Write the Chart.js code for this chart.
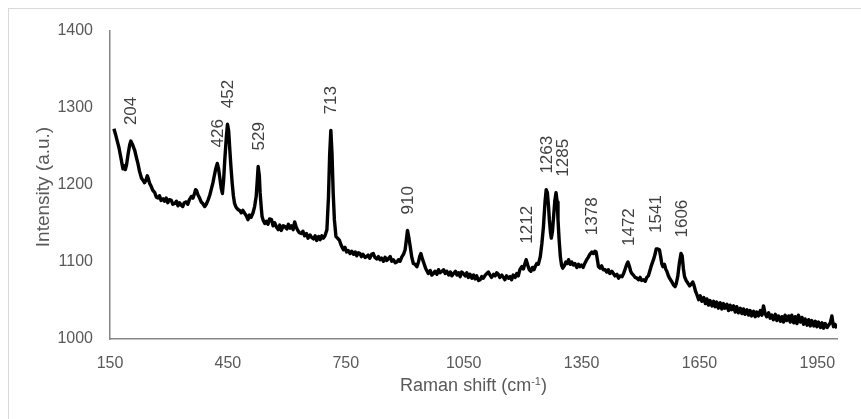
<!DOCTYPE html>
<html>
<head>
<meta charset="utf-8">
<script src="https://cdn.jsdelivr.net/npm/chart.js@4.4.1/dist/chart.umd.min.js"></script>
<style>
  html, body { margin:0; padding:0; background:#fff; }
  canvas { display:block; }
</style>
</head>
<body>
<canvas id="chart" width="861" height="419"></canvas>
<script>
// ====== DATA ======
const ramanShift = [
  160,164,167,170,173,176,179,181,183,186,189,192,196,200,203,207,210,213,217,221,
  225,230,234,238,242,245,247,251,255,259,264,268,272,276,280,285,289,293,297,301,
  306,310,315,319,323,327,331,335,339,344,348,352,357,361,365,368,370,374,378,382,
  386,391,395,400,404,408,412,415,419,423,426,429,433,436,439,442,446,449,452,455,
  458,461,464,467,471,476,480,484,488,493,497,501,505,509,514,518,522,525,527,530,
  532,535,537,540,544,548,552,556,561,565,569,574,578,582,586,591,595,600,604,608,
  612,616,620,624,628,632,637,641,645,650,654,659,663,668,672,676,681,685,689,693,
  697,702,706,709,712,715,718,721,725,729,734,738,741,744,748,752,756,761,765,770,
  774,778,782,786,790,794,799,803,807,811,816,820,824,829,833,837,841,846,850,854,
  858,863,867,871,876,880,884,888,893,897,901,904,907,910,914,918,922,926,931,935,
  938,941,945,949,953,957,960,965,969,973,977,982,986,990,995,999,1003,1007,1012,1016,
  1020,1024,1029,1033,1037,1041,1045,1049,1054,1058,1062,1066,1071,1075,1079,1083,1088,1092,1096,1100,
  1105,1109,1113,1117,1121,1126,1130,1134,1138,1142,1147,1151,1155,1159,1164,1168,1172,1176,1181,1185,
  1189,1193,1198,1202,1206,1209,1213,1217,1221,1225,1229,1232,1236,1240,1245,1249,1253,1257,1260,1263,
  1266,1268,1271,1273,1276,1279,1282,1285,1288,1290,1293,1296,1299,1302,1306,1310,1313,1317,1321,1325,
  1329,1333,1338,1342,1346,1350,1354,1358,1363,1367,1371,1376,1380,1384,1387,1390,1393,1397,1401,1405,
  1410,1414,1418,1422,1427,1431,1435,1440,1444,1448,1453,1457,1461,1465,1468,1472,1475,1478,1482,1486,
  1491,1495,1499,1503,1508,1512,1516,1520,1524,1528,1533,1537,1540,1544,1548,1551,1554,1557,1561,1564,
  1567,1571,1575,1580,1584,1588,1591,1595,1599,1603,1606,1609,1612,1616,1620,1625,1629,1633,1636,1640,
  1644,1648,1652,1656,1661,1665,1669,1673,1677,1682,1686,1690,1694,1698,1703,1707,1711,1715,1720,1724,
  1728,1732,1737,1741,1745,1749,1754,1758,1762,1766,1771,1775,1779,1783,1788,1792,1796,1800,1805,1809,
  1813,1817,1821,1826,1830,1834,1838,1843,1847,1851,1856,1860,1864,1868,1872,1877,1881,1885,1890,1894,
  1898,1902,1907,1911,1915,1919,1924,1928,1932,1936,1941,1945,1949,1953,1958,1962,1966,1970,1975,1979,
  1983,1987,1991,1995,2000
];
const intensity = [
  1273,1266,1260,1254,1248,1240,1232,1226,1221,1225,1220,1226,1240,1252,1257,1253,1249,1245,1236,1228,
  1218,1209,1206,1203,1207,1212,1209,1202,1198,1193,1190,1184,1183,1186,1180,1182,1179,1183,1177,1181,
  1180,1175,1176,1179,1173,1177,1174,1172,1177,1178,1175,1181,1185,1183,1189,1194,1193,1187,1183,1178,
  1176,1172,1175,1181,1187,1195,1203,1211,1221,1228,1222,1211,1196,1189,1205,1232,1262,1279,1270,1245,
  1222,1202,1186,1176,1171,1168,1167,1164,1167,1163,1160,1155,1161,1158,1164,1172,1185,1208,1224,1212,
  1190,1170,1159,1154,1150,1153,1149,1156,1155,1147,1151,1145,1142,1148,1141,1147,1146,1143,1149,1144,
  1147,1142,1152,1145,1141,1138,1137,1140,1134,1137,1131,1135,1132,1130,1134,1128,1133,1129,1134,1131,
  1134,1142,1185,1240,1271,1240,1189,1155,1133,1131,1128,1122,1119,1116,1119,1113,1115,1111,1114,1110,
  1113,1108,1112,1111,1107,1110,1106,1107,1109,1105,1110,1111,1106,1104,1107,1103,1105,1101,1106,1102,
  1104,1107,1101,1103,1099,1100,1103,1101,1107,1110,1116,1128,1141,1133,1120,1106,1098,1097,1094,1100,
  1107,1111,1104,1098,1092,1088,1085,1089,1083,1085,1088,1084,1090,1086,1088,1090,1085,1088,1083,1087,
  1082,1085,1088,1083,1086,1081,1087,1085,1082,1086,1080,1084,1079,1083,1078,1082,1076,1077,1081,1079,
  1083,1085,1087,1083,1080,1084,1082,1086,1084,1080,1083,1080,1077,1082,1079,1081,1077,1083,1080,1085,
  1082,1090,1094,1091,1098,1103,1096,1090,1088,1093,1090,1094,1098,1097,1107,1124,1146,1178,1194,1190,
  1172,1155,1138,1131,1140,1160,1180,1190,1178,1155,1128,1107,1096,1092,1095,1100,1098,1103,1097,1100,
  1096,1098,1093,1097,1094,1096,1093,1098,1103,1106,1110,1113,1111,1114,1113,1104,1094,1092,1095,1090,
  1090,1087,1090,1085,1088,1085,1082,1084,1079,1082,1081,1085,1091,1097,1100,1094,1088,1085,1083,1080,
  1079,1077,1080,1076,1077,1075,1080,1082,1089,1096,1103,1110,1117,1117,1116,1108,1098,1094,1097,1091,
  1088,1082,1078,1074,1070,1068,1072,1082,1099,1111,1108,1092,1081,1076,1073,1069,1071,1074,1070,1062,
  1057,1051,1056,1049,1054,1046,1052,1044,1050,1043,1049,1042,1048,1040,1047,1039,1046,1040,1045,1037,
  1044,1038,1043,1035,1042,1034,1040,1033,1039,1032,1038,1031,1037,1030,1036,1029,1035,1030,1037,1031,
  1043,1033,1029,1034,1027,1031,1025,1032,1024,1030,1023,1029,1022,1031,1024,1030,1022,1031,1021,1029,
  1020,1031,1022,1028,1019,1026,1018,1025,1017,1024,1017,1023,1016,1022,1015,1021,1014,1020,1015,1018,
  1021,1030,1016,1019,1014
];
const peakLabels = [204, 426, 452, 529, 713, 910, 1212, 1263, 1285, 1378, 1472, 1541, 1606];
const xTicks = [150, 450, 750, 1050, 1350, 1650, 1950];
const yTicks = [1000, 1100, 1200, 1300, 1400];

// ====== STYLE ======
const FONT = '"Liberation Sans", Arial, sans-serif';
const AXIS_GREY = '#868686';
const TICK_COLOR = '#595959';
const LABEL_COLOR = '#404040';

// ====== PLUGIN: peak labels, axis titles, frame ======
const decorations = {
  id: 'decorations',
  afterDatasetsDraw(chart) {
    const ctx = chart.ctx;
    const xs = chart.scales.x, ys = chart.scales.y;
    ctx.save();
    ctx.font = '17px ' + FONT;
    ctx.fillStyle = LABEL_COLOR;
    ctx.textAlign = 'left';
    ctx.textBaseline = 'middle';
    let prev = null;
    peakLabels.forEach(p => {
      // highest point near the peak
      let top = -Infinity;
      ramanShift.forEach((s, i) => { if (Math.abs(s - p) <= 8 && intensity[i] > top) top = intensity[i]; });
      const txt = String(p);
      const w = ctx.measureText(txt).width;
      let x = xs.getPixelForValue(p);
      const yb = ys.getPixelForValue(top) - 16;
      if (prev && x - prev.x < 15 && yb > prev.yb - prev.w && yb - w < prev.yb) x = prev.x + 16;
      ctx.save();
      ctx.translate(x, yb);
      ctx.rotate(-Math.PI / 2);
      ctx.fillText(txt, 0, 0);
      ctx.restore();
      prev = { x, yb, w };
    });
    ctx.restore();
  },
  afterDraw(chart) {
    const ctx = chart.ctx;
    const area = chart.chartArea;
    ctx.save();
    // outer frame
    ctx.strokeStyle = '#d9d9d9';
    ctx.lineWidth = 1;
    ctx.strokeRect(8.5, 8.5, 900, 500);

    // y title
    ctx.fillStyle = TICK_COLOR;
    ctx.font = '19px ' + FONT;
    ctx.textAlign = 'center';
    ctx.textBaseline = 'middle';
    ctx.translate(44, (area.top + area.bottom) / 2 + 2);
    ctx.rotate(-Math.PI / 2);
    ctx.fillText('Intensity (a.u.)', 0, 0);
    ctx.restore();

    // x title with superscript
    ctx.save();
    ctx.fillStyle = TICK_COLOR;
    ctx.textBaseline = 'alphabetic';
    ctx.textAlign = 'left';
    const big = '18px ' + FONT, small = '11px ' + FONT;
    const a = 'Raman shift (cm', b = '-1', c = ')';
    ctx.font = big; const wa = ctx.measureText(a).width, wc = ctx.measureText(c).width;
    ctx.font = small; const wb = ctx.measureText(b).width;
    let x = (area.left + area.right) / 2 - (wa + wb + wc) / 2;
    const base = 391;
    ctx.font = big; ctx.fillText(a, x, base); x += wa;
    ctx.font = small; ctx.fillText(b, x, base - 6); x += wb;
    ctx.font = big; ctx.fillText(c, x, base);
    ctx.restore();
  }
};

// ====== CHART ======
new Chart(document.getElementById('chart').getContext('2d'), {
  type: 'line',
  data: {
    datasets: [{
      data: ramanShift.map((s, i) => ({ x: s, y: intensity[i] })),
      borderColor: '#000',
      borderWidth: 3.4,
      borderJoinStyle: 'round',
      pointRadius: 0,
      tension: 0,
      fill: false
    }]
  },
  options: {
    responsive: false,
    animation: false,
    devicePixelRatio: 1,
    layout: { padding: { top: 31, right: 24, left: 0, bottom: 0 } },
    plugins: { legend: { display: false }, tooltip: { enabled: false } },
    scales: {
      x: {
        type: 'linear', min: 150, max: 2000,
        afterBuildTicks: s => { s.ticks = xTicks.map(v => ({ value: v })); },
        afterFit: s => { s.height = 80; },
        grid: { display: false },
        border: { display: true, color: AXIS_GREY, width: 1.5 },
        ticks: { color: TICK_COLOR, font: { family: FONT, size: 16 }, padding: 7, maxRotation: 0,
                 autoSkip: false, callback: v => String(v) }
      },
      y: {
        type: 'linear', min: 1000, max: 1400,
        afterBuildTicks: s => { s.ticks = yTicks.map(v => ({ value: v })); },
        afterFit: s => { s.width = 110; },
        grid: { display: false },
        border: { display: true, color: AXIS_GREY, width: 1.5 },
        ticks: { color: TICK_COLOR, font: { family: FONT, size: 16 }, padding: 9,
                 autoSkip: false, callback: v => String(v) }
      }
    }
  },
  plugins: [decorations]
});
</script>
</body>
</html>
